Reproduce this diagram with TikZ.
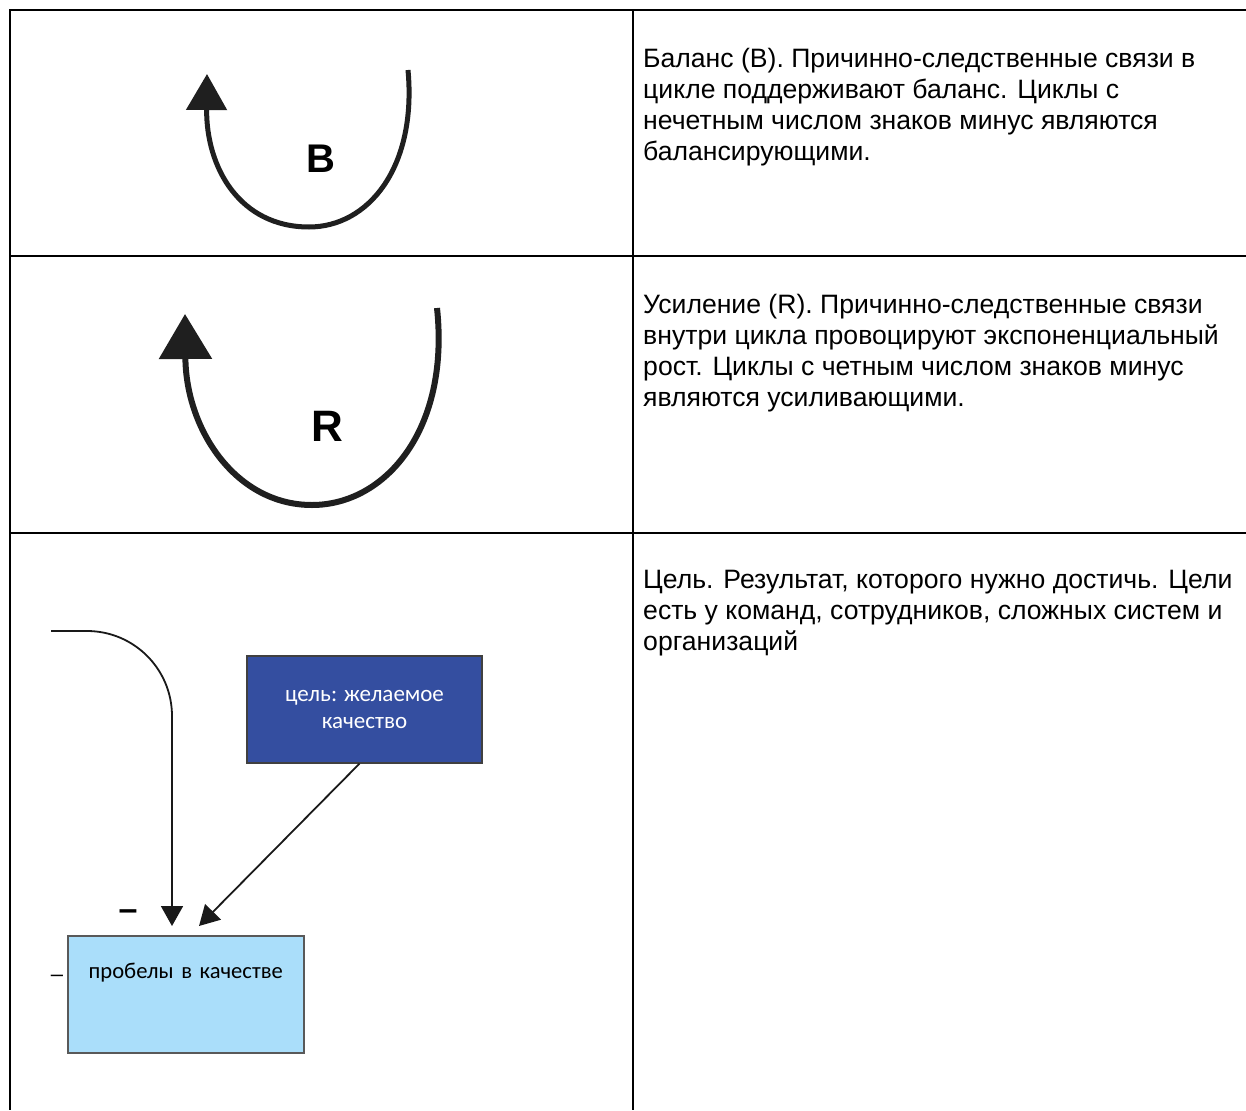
\documentclass[tikz,border=0pt]{standalone}
\usepackage{fontspec}
\setmainfont{Liberation Sans}
\newfontfamily\boxfont{Carlito}
\usetikzlibrary{arrows.meta}
\definecolor{goalblue}{RGB}{52,78,160}
\definecolor{gapblue}{RGB}{170,222,250}
\tikzset{tableline/.style={
  draw=black,
  line width=2pt,
  },
  celltext/.style={
  anchor=north west,
  inner sep=0pt,
  align=left,
  font=\fontsize{26.6}{31}\selectfont,
  },
  loopline/.style={
  draw=black!88,
  line width=5pt,
  -{Triangle[width=40pt,length=36pt]},
  },
  looplabel/.style={
  font=\bfseries\fontsize{40}{40}\selectfont,
  },
  goalbox/.style={
  draw=black!75,
  line width=1.2pt,
  fill=goalblue,
  text=white,
  align=center,
  minimum width=235pt,
  minimum height=107pt,
  font=\boxfont\fontsize{23}{27}\selectfont,
  },
  gapbox/.style={
  draw=black!65,
  line width=1.5pt,
  fill=gapblue,
  text=black,
  inner sep=0pt,
  align=center,
  text width=236pt,
  text height=43pt,
  text depth=74pt,
  font=\boxfont\fontsize{22.6}{24}\selectfont,
  },
  link/.style={
  draw=black!90,
  line width=1.8pt,
  -{Triangle[width=22pt,length=20pt]},
  },
}

\begin{document}
\begin{tikzpicture}[x=1pt,y=-1pt]
  \useasboundingbox (0,0) rectangle (1246,1110);

  \draw[tableline] (1246,10) -- (10,10) -- (10,1110);
  \draw[tableline] (633,10) -- (633,1110);
  \draw[tableline] (10,256) -- (1246,256);
  \draw[tableline] (10,533) -- (1246,533);

  \node[celltext] (btext) at (643,48) {Баланс (B). Причинно-следственные связи в\\
    цикле поддерживают баланс. Циклы с\\
    нечетным числом знаков минус являются\\
    балансирующими.};
  \node[celltext] (rtext) at (643,294) {Усиление (R). Причинно-следственные связи\\
    внутри цикла провоцируют экспоненциальный\\
    рост. Циклы с четным числом знаков минус\\
    являются усиливающими.};
  \node[celltext] (gtext) at (643,570) {Цель. Результат, которого нужно достичь. Цели\\
    есть у команд, сотрудников, сложных систем и\\
    организаций};

  \draw[loopline] (408,70) .. controls (417,168) and (368,227) .. (309,227)
    .. controls (240,227) and (206,168) .. (207,74);
  \node[looplabel] (bmark) at (321,159) {B};

  \draw[loopline, line width=6pt, -{Triangle[width=52pt,length=45pt]}]
    (437,308) .. controls (450,430) and (385,505) .. (312,505)
    .. controls (236,505) and (186,430) .. (185,314);
  \node[looplabel, font=\bfseries\fontsize{44}{44}\selectfont] (rmark) at (327,426) {R};

  \node[goalbox] (goal) at (364.5,709.5) {цель: желаемое\\ качество};
  \node[gapbox, anchor=north west] (gap) at (67,935) {пробелы в качестве};

  \coordinate (in) at (51,631);
  \draw[link, rounded corners=85pt, shorten >=9pt] (in) -| ([xshift=105pt]gap.north west);
  \draw[link] ([xshift=-5pt]goal.south) -- ([xshift=132pt,yshift=9pt]gap.north west);

  \node[font=\bfseries\fontsize{34}{34}\selectfont] (minusa) at (128,915) {–};
  \node[font=\fontsize{22}{22}\selectfont] (minusb) at (57,978) {–};
\end{tikzpicture}
\end{document}
